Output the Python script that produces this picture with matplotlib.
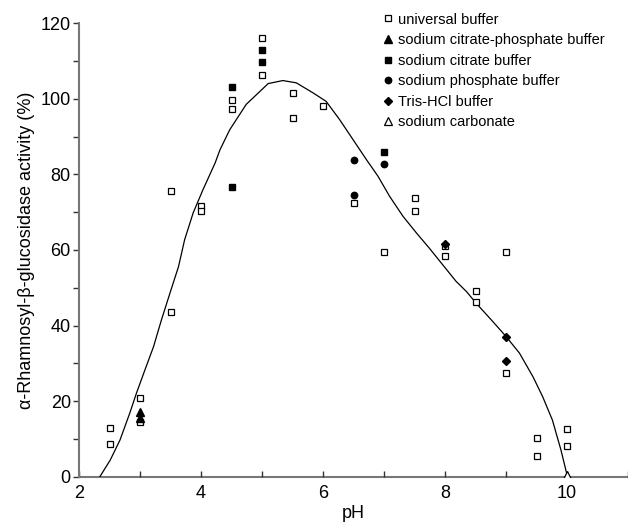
import matplotlib
matplotlib.use('Agg')
import matplotlib.pyplot as plt
from matplotlib.ticker import MultipleLocator

plt.rcParams['font.family'] = ['Liberation Sans', 'DejaVu Sans']

# universal buffer (open squares)
univ_ph = [2.5, 2.5, 3.0, 3.0, 3.5, 3.5, 4.0, 4.0, 4.5, 4.5, 5.0, 5.0, 5.5, 5.5,
           6.0, 6.5, 7.0, 7.5, 7.5, 8.0, 8.0, 8.5, 8.5, 9.0, 9.0, 9.5, 9.5, 10.0, 10.0]
univ_act = [12.8, 8.7, 20.7, 14.4, 75.7, 43.7, 71.7, 70.4, 99.6, 97.2, 116.0, 106.4, 101.6, 95.0,
            98.2, 72.4, 59.4, 73.6, 70.4, 60.9, 58.3, 49.0, 46.2, 59.4, 27.4, 10.3, 5.5, 12.6, 8.2]

# sodium citrate-phosphate buffer (filled triangles)
cp_ph = [3.0, 3.0]
cp_act = [17.0, 15.5]

# sodium citrate buffer (filled squares)
cit_ph = [4.5, 4.5, 5.0, 5.0, 7.0]
cit_act = [103.0, 76.7, 112.8, 109.7, 85.8]

# sodium phosphate buffer (filled circles)
phos_ph = [6.5, 6.5, 7.0]
phos_act = [83.8, 74.5, 82.6]

# Tris-HCl buffer (filled diamonds)
tris_ph = [8.0, 9.0, 9.0]
tris_act = [61.6, 37.0, 30.5]

# sodium carbonate (open triangle)
carb_ph = [10.0]
carb_act = [0.5]

# fitted curve
curve_ph = [2.34, 2.51, 2.67, 2.83, 2.94, 3.08, 3.22, 3.35, 3.49, 3.63, 3.73, 3.87, 4.03,
            4.23, 4.31, 4.47, 4.74, 5.10, 5.34, 5.56, 5.83, 6.05, 6.27, 6.49, 6.71, 6.90,
            7.09, 7.31, 7.53, 7.74, 7.95, 8.18, 8.35, 8.51, 8.78, 9.0, 9.22, 9.44, 9.60,
            9.76, 9.90, 10.0]
curve_act = [0, 4.4, 9.7, 16.8, 22.1, 28.3, 34.4, 41.5, 48.6, 55.6, 62.7, 69.8, 75.9,
             83.0, 86.5, 91.8, 98.5, 104.0, 104.8, 104.2, 101.6, 99.3, 94.5, 89.2, 83.9, 79.5,
             74.2, 68.9, 64.5, 60.5, 56.3, 51.7, 49.0, 45.9, 41.1, 37.1, 32.7, 26.5, 21.2,
             15.0, 7.1, 0.5]

fig = plt.figure(figsize=(6.28, 5.25), dpi=100)
ax = fig.add_axes([0.126, 0.092, 0.874, 0.864])

ax.plot(curve_ph, curve_act, color='black', lw=0.9, zorder=1)

ms = 4.6
ax.plot(univ_ph, univ_act, 's', mfc='white', mec='black', mew=0.9, ms=ms, label='universal buffer', zorder=3)
ax.plot(cp_ph, cp_act, '^', color='black', ms=ms + 1, label='sodium citrate-phosphate buffer', zorder=3)
ax.plot(cit_ph, cit_act, 's', color='black', ms=ms, label='sodium citrate buffer', zorder=3)
ax.plot(phos_ph, phos_act, 'o', color='black', ms=ms, label='sodium phosphate buffer', zorder=3)
ax.plot(tris_ph, tris_act, 'D', color='black', ms=ms - 0.6, label='Tris-HCl buffer', zorder=3)
ax.plot(carb_ph, carb_act, '^', mfc='white', mec='black', mew=0.9, ms=ms + 1, label='sodium carbonate', zorder=3)

ax.set_xlim(2, 11)
ax.set_ylim(0, 120)
ax.xaxis.set_major_locator(MultipleLocator(2))
ax.xaxis.set_minor_locator(MultipleLocator(1))
ax.yaxis.set_major_locator(MultipleLocator(20))
ax.yaxis.set_minor_locator(MultipleLocator(10))

for s in ['top', 'right']:
    ax.spines[s].set_visible(False)
for s in ['left', 'bottom']:
    ax.spines[s].set_color('#777777')
    ax.spines[s].set_linewidth(1.5)
ax.spines['bottom'].set_zorder(0)

ax.tick_params(axis='x', which='both', direction='in', length=4, width=1, color='#333333',
               labelsize=13, pad=6)
ax.tick_params(axis='y', which='both', direction='out', length=4, width=1, color='#333333',
               labelsize=13, pad=2)

ax.set_xlabel('pH', fontsize=13, labelpad=2)
ax.set_ylabel('α-Rhamnosyl-β-glucosidase activity (%)', fontsize=13, labelpad=4)

ax.legend(loc='upper right', bbox_to_anchor=(0.968, 1.036), frameon=False, fontsize=10.5,
          handletextpad=0.1, handlelength=1.2, labelspacing=0.45, borderaxespad=0)

fig.savefig('out.png', dpi=100)
